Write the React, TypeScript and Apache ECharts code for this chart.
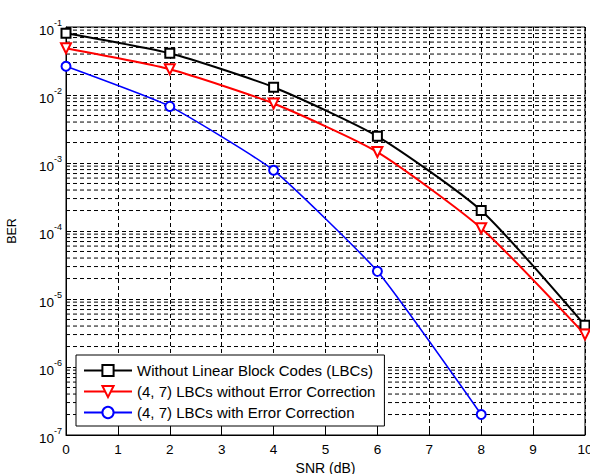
import React, { useEffect, useRef } from "react";
import * as echarts from "echarts";

const snr = [0, 2, 4, 6, 8, 10];
const berUncoded = [0.081, 0.041, 0.013, 2.47e-3, 2.0e-4, 4.1e-6];
const berNoCorr = [0.0486, 0.0239, 7.5e-3, 1.45e-3, 1.1e-4, 3.0e-6];
const berCorr = [0.0264, 6.8e-3, 7.8e-4, 2.55e-5, 2.0e-7];
const snrCorr = [0, 2, 4, 6, 8];
const decades = [-7, -6, -5, -4, -3, -2];
const mantissas = [2, 3, 4, 5, 6, 7, 8, 9];
const xRange = [0, 10];
const seriesNames = [
  "Without Linear Block Codes (LBCs)",
  "(4, 7) LBCs without Error Correction",
  "(4, 7) LBCs with Error Correction",
];

const FONT = "'Liberation Sans', Arial, sans-serif";

export default function App() {
  const ref = useRef<HTMLDivElement>(null);
  useEffect(() => {
    if (!ref.current) return;
    const chart = echarts.init(ref.current, undefined, { renderer: "svg" });
    const minorData: any[] = [];
    decades.forEach((d) =>
      mantissas.forEach((m) => {
        const v = m * Math.pow(10, d);
        minorData.push([xRange[0], v], [xRange[1], v], [xRange[1], "-"]);
      })
    );
    const dash = [4, 3];
    chart.setOption({
      animation: false,
      backgroundColor: "#fff",
      textStyle: { fontFamily: FONT },
      grid: {
        left: 66,
        top: 27,
        width: 519,
        height: 408,
        containLabel: false,
        outerBoundsMode: "none",
        show: true,
        borderColor: "#000",
        borderWidth: 1,
        backgroundColor: "transparent",
      },
      legend: {
        orient: "vertical",
        left: 76,
        top: 355,
        padding: [8, 9, 6, 7],
        itemGap: 6,
        itemWidth: 48,
        itemHeight: 14,
        backgroundColor: "#fff",
        borderColor: "#000",
        borderWidth: 1,
        textStyle: { fontFamily: FONT, fontSize: 15, color: "#000" },
        data: seriesNames,
      },
      xAxis: {
        type: "value",
        min: 0,
        max: 10,
        interval: 1,
        name: "SNR (dB)",
        nameLocation: "middle",
        nameGap: 23,
        nameTextStyle: { fontFamily: FONT, fontSize: 14, color: "#000" },
        axisLine: { show: true, lineStyle: { color: "#000" } },
        axisTick: { show: true, inside: true, length: 5, lineStyle: { color: "#000" } },
        axisLabel: { fontFamily: FONT, fontSize: 13.5, color: "#000", margin: 7 },
        splitLine: { show: true, lineStyle: { color: "#000", type: dash, width: 1 } },
      },
      yAxis: {
        type: "log",
        logBase: 10,
        min: 1e-7,
        max: 1e-1,
        name: "BER",
        nameLocation: "middle",
        nameGap: 48,
        nameTextStyle: { fontFamily: FONT, fontSize: 12.5, color: "#000" },
        axisLine: { show: true, lineStyle: { color: "#000" } },
        axisTick: { show: true, inside: true, length: 5, lineStyle: { color: "#000" } },
        splitLine: { show: true, lineStyle: { color: "#000", type: dash, width: 1 } },
        axisLabel: {
          margin: 4,
          formatter: (v: number) => {
            const e = Math.round(Math.log10(v));
            return `{b|10}{s|${e}}`;
          },
          rich: {
            b: { fontFamily: FONT, fontSize: 13.5, color: "#000", padding: [6, 0, 0, 0] },
            s: { fontFamily: FONT, fontSize: 9, color: "#000", padding: [0, 0, 8, 0] },
          },
        },
      },
      series: [
        {
          name: "minor-grid",
          type: "line",
          data: minorData,
          symbol: "none",
          silent: true,
          connectNulls: false,
          lineStyle: { color: "#000", type: dash, width: 1 },
          z: 1,
          tooltip: { show: false },
        },
        {
          name: seriesNames[0],
          type: "line",
          data: snr.map((x, i) => [x, berUncoded[i]]),
          smooth: 0.2,
          symbol: "emptyRect",
          symbolSize: 9,
          lineStyle: { color: "#000", width: 2 },
          itemStyle: { color: "#000", borderWidth: 2 },
          z: 5,
        },
        {
          name: seriesNames[1],
          type: "line",
          data: snr.map((x, i) => [x, berNoCorr[i]]),
          smooth: 0.2,
          symbol: "emptyTriangle",
          symbolRotate: 180,
          symbolSize: 10,
          lineStyle: { color: "#ff0000", width: 2 },
          itemStyle: { color: "#ff0000", borderWidth: 2 },
          z: 5,
        },
        {
          name: seriesNames[2],
          type: "line",
          data: snrCorr.map((x, i) => [x, berCorr[i]]),
          smooth: 0.15,
          symbol: "emptyCircle",
          symbolSize: 9,
          lineStyle: { color: "#0000ff", width: 1.6 },
          itemStyle: { color: "#0000ff", borderWidth: 2 },
          z: 5,
        },
      ],
    });
    return () => chart.dispose();
  }, []);
  return (
    <div
      ref={ref}
      style={{ position: "absolute", left: 0, top: 0, width: 590, height: 474, background: "#fff" }}
    />
  );
}
